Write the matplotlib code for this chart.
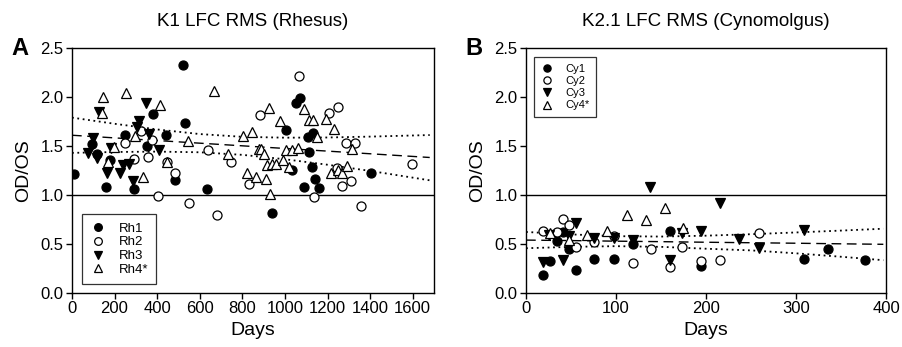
import numpy as np
import matplotlib
matplotlib.use('Agg')
from matplotlib import pyplot as plt

plt.rcParams['font.family'] = ['Liberation Sans', 'DejaVu Sans']

# ---- panel A : K1 LFC RMS (Rhesus) ----
rh1_days = [9, 92, 119, 158, 178, 249, 291, 353, 382, 443, 486, 521, 533, 632,
            940, 1007, 1031, 1054, 1070, 1090, 1109, 1114, 1125, 1133, 1143, 1161, 1402]
rh1_vals = [1.21, 1.52, 1.415, 1.085, 1.354, 1.61, 1.064, 1.497, 1.83, 1.61, 1.156, 2.33, 1.73, 1.058,
            0.813, 1.663, 1.255, 1.942, 1.986, 1.085, 1.595, 1.435, 1.289, 1.629, 1.163, 1.068, 1.221]
rh2_days = [249, 291, 324, 355, 377, 402, 444, 486, 550, 641, 682, 745, 829, 882,
            1067, 1137, 1206, 1245, 1247, 1269, 1289, 1309, 1331, 1356, 1597]
rh2_vals = [1.527, 1.364, 1.653, 1.39, 1.56, 0.993, 1.34, 1.22, 0.915, 1.459, 0.796, 1.34, 1.112, 1.816,
            2.214, 0.975, 1.834, 1.272, 1.895, 1.092, 1.527, 1.146, 1.527, 0.888, 1.316]
rh3_days = [77, 100, 116, 127, 163, 182, 225, 241, 267, 288, 306, 316, 346, 363, 407]
rh3_vals = [1.425, 1.58, 1.374, 1.85, 1.228, 1.483, 1.228, 1.306, 1.316, 1.143, 1.697, 1.755, 1.936, 1.622, 1.459]
rh4_days = [139, 147, 170, 197, 253, 296, 332, 413, 444, 546, 665, 734, 801, 824, 845, 865, 877,
            890, 901, 909, 914, 924, 929, 937, 957, 976, 992, 1004, 1020, 1035, 1062, 1089, 1114,
            1133, 1153, 1195, 1215, 1231, 1250, 1270, 1292, 1315]
rh4_vals = [1.834, 2.003, 1.34, 1.493, 2.044, 1.602, 1.18, 1.918, 1.34, 1.55, 2.064, 1.415, 1.602, 1.221,
            1.64, 1.18, 1.466, 1.466, 1.415, 1.163, 1.306, 1.884, 1.01, 1.313, 1.313, 1.755, 1.357,
            1.459, 1.289, 1.459, 1.476, 1.874, 1.765, 1.765, 1.588, 1.772, 1.221, 1.67, 1.255, 1.221,
            1.299, 1.466]
a_fit_days = [0, 200, 400, 600, 800, 1000, 1200, 1400, 1680]
a_fit = [1.61, 1.583, 1.556, 1.529, 1.502, 1.475, 1.448, 1.421, 1.383]
a_upper = [1.79, 1.727, 1.669, 1.622, 1.594, 1.585, 1.587, 1.596, 1.612]
a_lower = [1.43, 1.439, 1.443, 1.436, 1.410, 1.365, 1.309, 1.246, 1.15]

# ---- panel B : K2.1 LFC RMS (Cynomolgus) ----
cy1_days = [19, 27, 35, 41, 48, 56, 76, 98, 119, 160, 194, 309, 335, 377]
cy1_vals = [0.18, 0.327, 0.534, 0.626, 0.446, 0.235, 0.344, 0.35, 0.497, 0.636, 0.276, 0.344, 0.446, 0.337]
cy2_days = [19, 35, 41, 48, 56, 76, 98, 119, 139, 160, 173, 194, 215, 259]
cy2_vals = [0.633, 0.626, 0.752, 0.694, 0.466, 0.517, 0.582, 0.303, 0.449, 0.262, 0.466, 0.33, 0.337, 0.616]
cy3_days = [19, 26, 41, 48, 56, 76, 98, 119, 138, 160, 173, 194, 216, 237, 259, 309]
cy3_vals = [0.32, 0.592, 0.337, 0.582, 0.711, 0.558, 0.565, 0.541, 1.085, 0.337, 0.609, 0.636, 0.921,
            0.548, 0.462, 0.643]
cy4_days = [27, 48, 68, 90, 112, 133, 154, 174]
cy4_vals = [0.609, 0.541, 0.592, 0.636, 0.796, 0.745, 0.864, 0.66]
b_fit_days = [0, 50, 100, 150, 200, 250, 300, 350, 397]
b_fit = [0.54, 0.535, 0.529, 0.524, 0.518, 0.513, 0.508, 0.502, 0.497]
b_upper = [0.623, 0.598, 0.580, 0.576, 0.585, 0.600, 0.618, 0.637, 0.656]
b_lower = [0.457, 0.471, 0.478, 0.471, 0.452, 0.435, 0.405, 0.37, 0.335]

fig = plt.figure(figsize=(9.03, 3.47), dpi=100)
ax_a = fig.add_axes([0.0797, 0.1556, 0.4009, 0.706])
ax_b = fig.add_axes([0.5825, 0.1556, 0.3987, 0.706])

ms = 6.5
mk = dict(linestyle='none', markersize=ms, markeredgecolor='black', markeredgewidth=0.9)


def draw_panel(ax, series, fit_days, fit, upper, lower, xlim, xticks, title, letter,
               leg_size, leg_loc, leg_anchor, leg_ms, leg_space):
    ax.axhline(1.0, color='black', lw=1.0, zorder=1)
    ax.plot(fit_days, fit, color='black', lw=1.0, dashes=(7, 4), zorder=2)
    ax.plot(fit_days, upper, color='black', lw=1.3, linestyle=(0, (1, 2)), zorder=2)
    ax.plot(fit_days, lower, color='black', lw=1.3, linestyle=(0, (1, 2)), zorder=2)
    handles = []
    for days, vals, marker, face, label in series:
        h, = ax.plot(days, vals, marker=marker, markerfacecolor=face, label=label, zorder=3, **mk)
        handles.append(h)
    ax.set_xlim(*xlim)
    ax.set_ylim(0, 2.5)
    ax.set_xticks(xticks)
    ax.set_yticks([0.0, 0.5, 1.0, 1.5, 2.0, 2.5])
    ax.set_yticklabels(['0.0', '0.5', '1.0', '1.5', '2.0', '2.5'])
    ax.tick_params(direction='out', length=4, width=1, labelsize=12, pad=2)
    for s in ax.spines.values():
        s.set_linewidth(1.0)
    ax.set_xlabel('Days', fontsize=14, labelpad=4)
    ax.set_ylabel('OD/OS', fontsize=14, labelpad=6)
    ax.set_title(title, fontsize=13.5, pad=16)
    ax.text(-0.145, 1.0, letter, transform=ax.transAxes, fontsize=17, fontweight='bold',
            ha='center', va='center')
    leg = ax.legend(handles=handles, loc=leg_loc, bbox_to_anchor=leg_anchor, fontsize=leg_size,
                    frameon=True, fancybox=False, edgecolor='black', handlelength=1.2,
                    handletextpad=1.0, borderpad=0.6, labelspacing=leg_space, markerscale=leg_ms,
                    borderaxespad=0)
    leg.get_frame().set_linewidth(0.9)


draw_panel(ax_a,
           [(rh1_days, rh1_vals, 'o', 'black', 'Rh1'),
            (rh2_days, rh2_vals, 'o', 'white', 'Rh2'),
            (rh3_days, rh3_vals, 'v', 'black', 'Rh3'),
            (rh4_days, rh4_vals, '^', 'white', 'Rh4*')],
           a_fit_days, a_fit, a_upper, a_lower, (0, 1700),
           [0, 200, 400, 600, 800, 1000, 1200, 1400, 1600],
           'K1 LFC RMS (Rhesus)', 'A', 9.5, 'lower left', (0.028, 0.037), 0.85, 0.12)

draw_panel(ax_b,
           [(cy1_days, cy1_vals, 'o', 'black', 'Cy1'),
            (cy2_days, cy2_vals, 'o', 'white', 'Cy2'),
            (cy3_days, cy3_vals, 'v', 'black', 'Cy3'),
            (cy4_days, cy4_vals, '^', 'white', 'Cy4*')],
           b_fit_days, b_fit, b_upper, b_lower, (0, 400),
           [0, 100, 200, 300, 400],
           'K2.1 LFC RMS (Cynomolgus)', 'B', 8, 'upper left', (0.022, 0.963), 0.8, 0.2)

fig.savefig('out.png', dpi=100)
